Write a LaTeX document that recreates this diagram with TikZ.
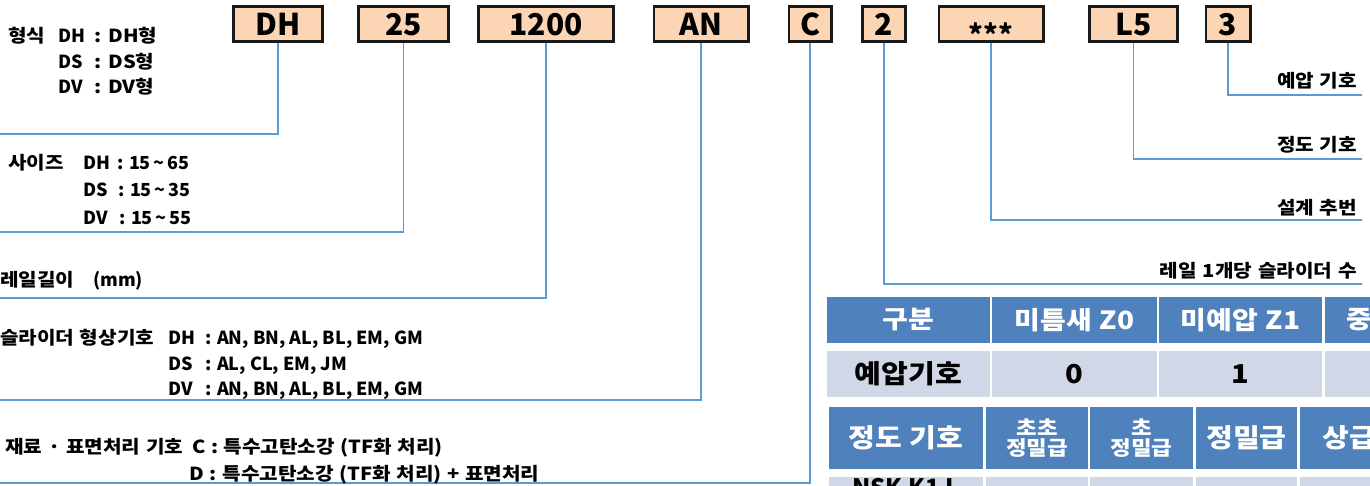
\documentclass[tikz,border=0pt]{standalone}
\usepackage{fontspec}
\setmainfont{Noto Sans CJK KR}[FakeStretch=1.12, WordSpace=1.2]
\newfontfamily\latf{Noto Sans CJK KR}
\definecolor{peach}{HTML}{FCD5B5}
\definecolor{lineblue}{HTML}{5B9BD5}
\definecolor{hblue}{HTML}{4F81BD}
\definecolor{lblue}{HTML}{D0D8E8}
\newcommand{\lf}{\fontsize{18}{20}\selectfont\bfseries}
\newcommand{\tld}{\,\textasciitilde\,}
\begin{document}
\begin{tikzpicture}[x=1pt,y=-1pt,
  code/.style={draw=black!90, line width=2.6pt, fill=peach, inner sep=0pt,
    minimum height=35.4pt, font=\latf\fontsize{30}{30}\selectfont\bfseries,
    text height=24pt, text depth=0pt},
  conn/.style={draw=lineblue, line width=1.8pt},
  lbl/.style={anchor=base west, inner sep=0pt, font=\lf},
  llat/.style={anchor=base west, inner sep=0pt, font=\latf\fontsize{18}{20}\selectfont\bfseries},
  rlbl/.style={anchor=base east, inner sep=0pt, font=\lf},
  hcell/.style={fill=hblue, text=white, inner sep=0pt, font=\fontsize{25}{27}\selectfont\bfseries},
  lcell/.style={fill=lblue, text=black, inner sep=0pt, font=\fontsize{26}{28}\selectfont\bfseries},
]
\useasboundingbox (0,0) rectangle (1370,486);
\clip (0,0) rectangle (1370,486);

% code boxes
\node[code, minimum width=89.4pt] (bDH) at (278,24) {DH};
\node[code, minimum width=90.4pt] (b25) at (403.5,24) {25};
\node[code, minimum width=135.4pt] (b1200) at (546,24) {1200};
\node[code, minimum width=94.4pt] (bAN) at (701,24) {AN};
\node[code, minimum width=42.4pt] (bC) at (810,24) {C};
\node[code, minimum width=43.4pt] (b2) at (884,24) {2};
\node[code, minimum width=104.4pt] (bst) at (991,24) {\fontsize{28}{28}\selectfont\raisebox{-9.5pt}{***}};
\node[code, minimum width=88.4pt] (bL5) at (1133.5,24) {L5};
\node[code, minimum width=44.4pt] (b3) at (1228,24) {3};

% connector ends
\coordinate (eDH) at (0,134);
\coordinate (e25) at (0,232);
\coordinate (e1200) at (0,298);
\coordinate (eAN) at (0,400);
\coordinate (eC) at (0,483);
\coordinate (e2) at (1362,284);
\coordinate (est) at (1362,220);
\coordinate (eL5) at (1362,159);
\coordinate (e3) at (1362,95);

\draw[conn] (bDH.south) |- (eDH);
\draw[conn] (b25.south) |- (e25);
\draw[conn] (b1200.south) |- (e1200);
\draw[conn] (bAN.south) |- (eAN);
\draw[conn] (bC.south) |- (eC);
\draw[conn] (b2.south) |- (e2);
\draw[conn] (bst.south) |- (est);
\draw[conn] (bL5.south) |- (eL5);
\draw[conn] (b3.south) |- (e3);

% left labels
\node[lbl] (t1) at (8,43) {형식};
\node[llat] (t1a) at (58,43) {DH};
\node[lbl] (t1b) at (94,43) {: DH형};
\node[llat] (t1c) at (58,68.5) {DS};
\node[lbl] (t1d) at (94,68.5) {: DS형};
\node[llat] (t1e) at (58,94) {DV};
\node[lbl] (t1f) at (94,94) {: DV형};

\node[lbl] (t2) at (8,169.5) {사이즈};
\node[llat] (t2a) at (83,169.5) {DH};
\node[llat] (t2b) at (117,169.5) {: 15\tld 65};
\node[llat] (t2c) at (83,197) {DS};
\node[llat] (t2d) at (118,197) {: 15\tld 35};
\node[llat] (t2e) at (83,224.5) {DV};
\node[llat] (t2f) at (119,224.5) {: 15\tld 55};

\node[lbl] (t3) at (0,287) {레일길이};
\node[llat] (t3a) at (93,287) {(mm)};

\node[lbl] (t4) at (0,344) {슬라이더 형상기호};
\node[llat] (t4a) at (168,344) {DH};
\node[llat] (t4b) at (205,344) {: AN, BN, AL, BL, EM, GM};
\node[llat] (t4c) at (168,370) {DS};
\node[llat] (t4d) at (205,370) {: AL, CL, EM, JM};
\node[llat] (t4e) at (168,395.5) {DV};
\node[llat] (t4f) at (205,395.5) {: AN, BN, AL, BL, EM, GM};

\node[lbl] (t5) at (5,453) {\makebox[178pt][s]{재료 · 표면처리 기호}};
\node[lbl] (t5a) at (192,453) {C : 특수고탄소강 (TF화 처리)};
\node[lbl] (t5b) at (189.5,480) {D : 특수고탄소강 (TF화 처리) + 표면처리};

% right labels
\node[rlbl] (r1) at (1357,88) {예압 기호};
\node[rlbl] (r2) at (1357,152) {정도 기호};
\node[rlbl] (r3) at (1357,214.5) {설계 추번};
\node[rlbl] (r4) at (1357,278) {\makebox[197pt][s]{레일 1개당 슬라이더 수}};

% table 1
\node[hcell, minimum width=163pt, minimum height=46pt] (a11) at (908.5,320) {구분};
\node[hcell, minimum width=165pt, minimum height=46pt] (a12) at (1074.5,320) {미틈새 Z0};
\node[hcell, minimum width=163pt, minimum height=46pt] (a13) at (1240.5,320) {미예압 Z1};
\node[hcell, anchor=west, minimum height=46pt, text width=200pt, align=left] (a14) at (1325,320) {\hspace*{21pt}중};
\node[lcell, minimum width=163pt, minimum height=46pt] (a21) at (908.5,374) {예압기호};
\node[lcell, minimum width=165pt, minimum height=46pt] (a22) at (1074.5,374) {0};
\node[lcell, minimum width=163pt, minimum height=46pt] (a23) at (1240.5,374) {1};
\node[lcell, anchor=west, minimum width=200pt, minimum height=46pt] (a24) at (1325,374) {};

% table 2
\node[hcell, font=\fontsize{26}{28}\selectfont\bfseries, minimum width=154pt, minimum height=62pt] (c11) at (906,438) {정도 기호};
\node[hcell, font=\fontsize{20}{20.5}\selectfont\bfseries, align=center, minimum width=102pt, minimum height=62pt] (c12) at (1037,438) {초초\\정밀급};
\node[hcell, font=\fontsize{20}{20.5}\selectfont\bfseries, align=center, minimum width=103pt, minimum height=62pt] (c13) at (1141.5,438) {초\\정밀급};
\node[hcell, font=\fontsize{26}{28}\selectfont\bfseries, minimum width=101pt, minimum height=62pt] (c14) at (1246.5,438) {정밀급};
\node[hcell, font=\fontsize{26}{28}\selectfont\bfseries, anchor=west, minimum height=62pt, text width=200pt, align=left] (c15) at (1300,438) {\hspace*{22pt}상급};
\node[lcell, font=\latf\fontsize{24}{26}\selectfont\bfseries, anchor=north, minimum width=154pt, minimum height=60pt, text height=0pt, text depth=22pt] (d11) at (906,477) {NSK K1 L};
\node[lcell, anchor=north, minimum width=102pt, minimum height=60pt] (d12) at (1037,477) {};
\node[lcell, anchor=north, minimum width=103pt, minimum height=60pt] (d13) at (1141.5,477) {};
\node[lcell, anchor=north, minimum width=101pt, minimum height=60pt] (d14) at (1246.5,477) {};
\node[lcell, anchor=north west, minimum width=200pt, minimum height=60pt] (d15) at (1300,477) {};
\end{tikzpicture}
\end{document}
